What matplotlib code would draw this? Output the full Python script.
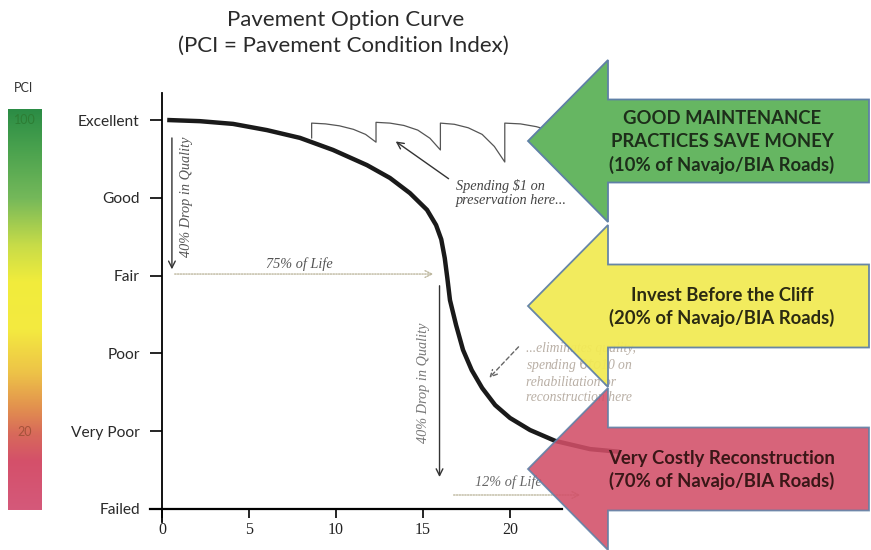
import matplotlib
matplotlib.use("Agg")
import matplotlib.pyplot as plt
import numpy as np
from matplotlib.patches import Polygon
from matplotlib.colors import LinearSegmentedColormap

# ---- data -------------------------------------------------------------
condition_labels = ["Failed", "Very Poor", "Poor", "Fair", "Good", "Excellent"]
condition_pci = [0, 20, 40, 60, 80, 100]
year_ticks = [0, 5, 10, 15, 20]

# pavement deterioration curve (age in years, PCI)
curve_years = [0.3, 2.18, 4.08, 6.03, 7.93, 9.83, 11.78, 13.1, 14.25, 15.23, 15.75,
               16.05, 16.25, 16.4, 16.55, 16.9, 17.3, 17.8, 18.4, 19.15, 20.0, 21.15,
               22.6, 24.6, 26.3]
curve_pci = [100, 99.7, 99.0, 97.4, 95.4, 92.3, 88.4, 85.1, 81.2, 76.9, 73.0,
             69.3, 64.5, 59.3, 53.7, 47.3, 40.9, 35.7, 31.1, 26.7, 23.4, 20.3,
             17.5, 15.4, 14.7]

# curve kept high by periodic preservation treatments
pres_years = [8.6, 8.6, 9.4, 10.2, 11.0, 11.7, 12.3, 12.3, 13.1, 13.9, 14.7, 15.4,
              16.0, 16.0, 16.8, 17.6, 18.4, 19.1, 19.7, 19.7, 20.6, 21.5, 22.3]
pres_pci = [95.4, 99.2, 99.0, 98.5, 97.6, 96.3, 94.3, 99.4, 99.2, 98.6, 97.4, 95.3,
            92.3, 99.2, 98.9, 98.0, 96.3, 93.2, 89.2, 99.2, 99.0, 98.3, 97.3]

arrow_texts = [
    "GOOD MAINTENANCE\nPRACTICES SAVE MONEY\n(10% of Navajo/BIA Roads)",
    "Invest Before the Cliff\n(20% of Navajo/BIA Roads)",
    "Very Costly Reconstruction\n(70% of Navajo/BIA Roads)",
]

# ---- figure -----------------------------------------------------------
W, H = 871, 550
fig = plt.figure(figsize=(W / 100, H / 100), dpi=100)
fig.patch.set_facecolor("white")

PX_PER_YEAR = 17.4
X0_PX = 162.0
PX_PER_PCI = 3.89
Y100_PX = 120.0


def fx(px):
    return px / W


def fy(py):
    return 1 - py / H


# main chart axes
ax_left_px, ax_right_px = 150.0, 871.0
ax_top_px, ax_bot_px = 93.0, 522.0
ax = fig.add_axes([fx(ax_left_px), fy(ax_bot_px), (ax_right_px - ax_left_px) / W,
                   (ax_bot_px - ax_top_px) / H])
ax.set_xlim((ax_left_px - X0_PX) / PX_PER_YEAR, (ax_right_px - X0_PX) / PX_PER_YEAR)
ax.set_ylim(100 - (ax_bot_px - Y100_PX) / PX_PER_PCI, 100 + (Y100_PX - ax_top_px) / PX_PER_PCI)
ax.patch.set_alpha(0)
for s in ["top", "right"]:
    ax.spines[s].set_visible(False)
ax.spines["left"].set_position(("data", 0))
ax.spines["left"].set_linewidth(1.3)
ax.spines["bottom"].set_position(("data", 0))
ax.spines["bottom"].set_bounds((ax_left_px - X0_PX) / PX_PER_YEAR, 23.0)
ax.spines["bottom"].set_linewidth(1.6)

ax.set_yticks(condition_pci)
ax.set_yticklabels(condition_labels, family="Lato", fontsize=11.2, color="#2a2a2a")
ax.tick_params(axis="y", length=9, width=1.2, pad=7, direction="out")
ax.set_xticks(year_ticks)
ax.set_xticklabels([str(v) for v in year_ticks], family="Liberation Serif",
                   fontsize=11.5, color="#222222")
ax.tick_params(axis="x", length=6.5, width=1.2, pad=3, direction="out")

# main deterioration curve
ax.plot(curve_years, curve_pci, color="#1a1a1a", lw=3.2, solid_capstyle="butt",
        solid_joinstyle="round", zorder=3)
# preservation saw-tooth
ax.plot(pres_years, pres_pci, color="#555555", lw=0.9, zorder=3)

NOTE_FS = 10.3
arrow_kw = dict(arrowstyle="->", color="#333333", lw=1.0, mutation_scale=12)
# 40% drop (first 75% of life)
ax.annotate("", xy=(0.57, 60.9), xytext=(0.57, 96.1), arrowprops=arrow_kw)
ax.text(1.4, 80.2, "40% Drop in Quality", rotation=90, ha="center", va="center",
        family="Liberation Serif", style="italic", fontsize=NOTE_FS, color="#555555")
# 40% drop (next 12% of life)
ax.annotate("", xy=(15.95, 7.5), xytext=(15.95, 58.1), arrowprops=arrow_kw)
ax.text(15.05, 32.4, "40% Drop in Quality", rotation=90, ha="center", va="center",
        family="Liberation Serif", style="italic", fontsize=NOTE_FS, color="#777777")

# 75% of life
ax.annotate("", xy=(15.75, 60.4), xytext=(0.57, 60.4),
            arrowprops=dict(arrowstyle="->", color="#bdb79e", lw=1.0, ls=(0, (1, 1)),
                            mutation_scale=12))
ax.text(7.9, 62.9, "75% of Life", ha="center", va="center", family="Liberation Serif",
        style="italic", fontsize=NOTE_FS, color="#555555")
# 12% of life
ax.annotate("", xy=(24.2, 3.6), xytext=(16.6, 3.6),
            arrowprops=dict(arrowstyle="->", color="#bdb79e", lw=1.0, ls=(0, (1, 1)),
                            mutation_scale=12))
ax.text(19.9, 6.8, "12% of Life", ha="center", va="center", family="Liberation Serif",
        style="italic", fontsize=NOTE_FS, color="#666666")

# preservation note
ax.annotate("", xy=(13.3, 94.9), xytext=(16.6, 84.5),
            arrowprops=dict(arrowstyle="->", color="#333333", lw=1.0, mutation_scale=12))
ax.text(16.9, 81.2, "Spending $1 on\npreservation here...", ha="left", va="center",
        family="Liberation Serif", style="italic", fontsize=NOTE_FS, color="#444444",
        linespacing=1.15)

# reconstruction note
ax.annotate("", xy=(18.7, 33.2), xytext=(20.6, 42.2),
            arrowprops=dict(arrowstyle="->", color="#666666", lw=1.0, ls=(0, (3, 2)),
                            mutation_scale=12))
ax.text(20.9, 35.0, "...eliminates quality,\nspending $6 to $10 on\nrehabilitation or\nreconstruction here",
        ha="left", va="center", family="Liberation Serif", style="italic", fontsize=9.8,
        color="#b9afa5", linespacing=1.2)

# ---- PCI colour scale -------------------------------------------------
cmap = LinearSegmentedColormap.from_list(
    "pci",
    [(0.0, "#d5597a"), (0.12, "#d4506a"), (0.19, "#d86a5a"), (0.26, "#e3944e"),
     (0.34, "#edc248"), (0.45, "#f4ea40"), (0.57, "#f1ec3c"), (0.66, "#c8dc48"),
     (0.78, "#74b85a"), (0.9, "#4aa24e"), (1.0, "#2b8c45")])
cb_top_px, cb_bot_px = 109.0, 510.0
cax = fig.add_axes([fx(8), fy(cb_bot_px), 33 / W, (cb_bot_px - cb_top_px) / H])
pci_top = 100 + (Y100_PX - cb_top_px) / PX_PER_PCI
grad = np.linspace(0, 1, 256).reshape(-1, 1)
cax.imshow(grad, cmap=cmap, aspect="auto", origin="lower", extent=[0, 1, 0, pci_top])
cax.set_xlim(0, 1)
cax.set_ylim(0, pci_top)
cax.axis("off")
cax.text(0.5, 100, "100", ha="center", va="center", fontsize=9, family="Lato",
         color="#2d7d34")
cax.text(0.5, 20, "20", ha="center", va="center", fontsize=9, family="Lato",
         color="#a4523a")
fig.text(fx(23), fy(88), "PCI", ha="center", va="center", fontsize=9, family="Lato",
         color="#333333")

# ---- title ------------------------------------------------------------
fig.text(fx(346), fy(20), "Pavement Option Curve", ha="center", va="center",
         fontsize=16, family="Lato", color="#2a2a2a")
fig.text(fx(343), fy(46), "(PCI = Pavement Condition Index)", ha="center", va="center",
         fontsize=16, family="Lato", color="#2a2a2a")

# ---- call-out arrows (pixel-space overlay) ----------------------------
ov = fig.add_axes([0, 0, 1, 1], zorder=5)
ov.set_xlim(0, W)
ov.set_ylim(H, 0)
ov.axis("off")
ov.patch.set_alpha(0)


def block_arrow(tip_x, cy, head_x, head_half, body_half, right_x):
    return [(tip_x, cy), (head_x, cy - head_half), (head_x, cy - body_half),
            (right_x, cy - body_half), (right_x, cy + body_half),
            (head_x, cy + body_half), (head_x, cy + head_half)]


arrows = [
    dict(cy=141, face="#66b662", alpha=1.0, tcol="#1d2e1a"),
    dict(cy=306, face="#f2ea55", alpha=0.95, tcol="#2b2a12"),
    dict(cy=469, face="#d24f68", alpha=0.88, tcol="#3a1717"),
]
for spec, txt in zip(arrows, arrow_texts):
    verts = block_arrow(528, spec["cy"], 608, 81, 41.5, 869)
    ov.add_patch(Polygon(verts, closed=True, facecolor=spec["face"], alpha=spec["alpha"],
                         edgecolor="#5f80a6", lw=1.3, joinstyle="miter"))
    ov.text(722, spec["cy"] + 1, txt, ha="center", va="center", fontsize=13.3,
            family="Lato", weight="bold", color=spec["tcol"], linespacing=1.38)

fig.savefig("out.png", dpi=100, facecolor="white")
